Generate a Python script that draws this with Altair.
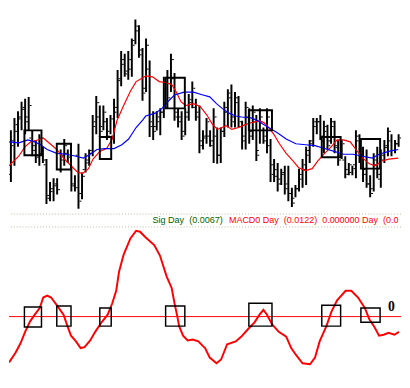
import altair as alt
import pandas as pd

# ---- price bars (arbitrary price units, one bar per day) ----
high = [86, 99, 106, 116, 119, 121, 86, 76, 82, 69,
        56, 32, 36, 36, 66, 77, 66, 49, 39, 72,
        42, 62, 66, 102, 122, 112, 112, 99, 102, 119,
        149, 169, 166, 169, 182, 202, 196, 172, 182, 159,
        106, 106, 109, 142, 149, 166, 146, 109, 106, 109,
        124, 137, 119, 112, 86, 99, 86, 109, 89, 89,
        116, 129, 134, 126, 122, 96, 116, 109, 112, 102,
        109, 89, 109, 77, 56, 52, 46, 49, 49, 26,
        29, 46, 56, 69, 76, 99, 99, 102, 96, 92,
        99, 96, 76, 76, 59, 52, 49, 86, 82, 69,
        66, 39, 62, 69, 66, 76, 89, 82, 76, 82]
low = [32, 49, 69, 86, 82, 86, 59, 52, 49, 52,
       9, 12, 12, 19, 42, 49, 52, 22, 22, 4,
       14, 42, 49, 59, 82, 79, 86, 76, 82, 72,
       99, 132, 142, 139, 142, 176, 162, 117, 126, 79,
       76, 86, 81, 99, 109, 126, 96, 89, 76, 81,
       96, 109, 96, 62, 66, 72, 69, 52, 51, 52,
       79, 89, 89, 89, 89, 66, 66, 72, 76, 54,
       72, 72, 62, 32, 32, 22, 29, 19, 12, 6,
       16, 22, 26, 29, 52, 69, 82, 76, 62, 66,
       72, 62, 49, 56, 36, 39, 39, 36, 52, 32,
       26, 16, 22, 36, 26, 52, 59, 59, 62, 69]
open_ = [40, 70, 85, 98, 108, 100, 78, 70, 60, 62,
         50, 18, 22, 28, 45, 55, 62, 45, 30, 60,
         20, 45, 52, 65, 90, 100, 90, 95, 85, 80,
         105, 138, 155, 145, 150, 180, 190, 165, 130, 150,
         95, 90, 95, 105, 130, 135, 140, 105, 100, 85,
         100, 115, 110, 105, 75, 78, 80, 70, 80, 60,
         85, 105, 125, 100, 115, 90, 80, 100, 85, 95,
         65, 95, 75, 70, 50, 45, 35, 40, 30, 20,
         15, 25, 35, 45, 60, 75, 90, 95, 75, 85,
         75, 90, 70, 60, 55, 45, 42, 50, 75, 60,
         45, 30, 25, 50, 35, 55, 68, 75, 65, 72]
close = [75, 92, 100, 110, 95, 112, 65, 58, 78, 55,
         15, 25, 30, 24, 60, 70, 58, 28, 26, 12,
         38, 55, 62, 95, 115, 85, 105, 80, 98, 110,
         140, 160, 148, 160, 175, 195, 170, 125, 175, 90,
         85, 100, 105, 135, 120, 160, 100, 95, 80, 105,
         118, 130, 100, 70, 80, 95, 75, 100, 60, 85,
         110, 120, 95, 120, 95, 75, 110, 80, 105, 60,
         100, 80, 100, 40, 38, 30, 42, 25, 20, 10,
         25, 40, 50, 65, 72, 95, 95, 80, 90, 70,
         95, 68, 55, 72, 40, 50, 46, 80, 60, 40,
         30, 20, 55, 40, 60, 70, 85, 65, 72, 78]

# ---- moving averages (day, price) ----
fast_day = [-0.5, 2.2, 4.0, 5.6, 7.5, 9.1, 11.0, 12.9, 14.8, 16.9, 18.8, 20.2, 21.8, 23.1,
            25.0, 26.9, 28.5, 29.8, 31.7, 33.6, 35.2, 37.1, 37.9, 39.8, 41.7, 43.3, 45.2,
            46.5, 47.8, 49.2, 51.3, 53.2, 55.1, 56.7, 58.1, 60.5, 62.1, 64.0, 65.9, 67.5,
            69.9, 71.2, 72.0, 73.9, 75.5, 77.4, 79.3, 80.9, 82.8, 84.7, 86.3, 88.2, 90.1,
            91.7, 93.5, 95.4, 97.0, 98.9, 100.8, 102.4, 104.3, 106.2, 108.9]
fast_val = [49, 59, 69, 74, 76, 78, 72, 66, 57, 49, 42, 41, 46, 56,
            64, 67, 77, 96, 112, 127, 137, 141, 143, 142, 137, 136, 134,
            126, 116, 112, 114, 111, 102, 92, 87, 91, 87, 89, 92, 94,
            96, 94, 91, 82, 72, 62, 54, 47, 44, 46, 54, 62, 69,
            76, 76, 74, 66, 57, 51, 49, 54, 56, 57]
slow_day = [-0.5, 2.2, 4.8, 6.7, 8.3, 10.2, 12.9, 15.6, 18.3, 20.4, 22.3, 24.2, 26.3, 29.0,
            31.2, 33.1, 35.2, 37.1, 37.9, 40.6, 42.5, 44.4, 46.0, 48.7, 51.3, 54.0, 55.9,
            57.8, 59.4, 61.3, 63.2, 64.8, 67.5, 69.4, 71.5, 74.7, 77.4, 80.1, 82.8, 85.5,
            88.2, 90.9, 93.5, 96.2, 98.9, 101.6, 103.5, 106.2, 108.9]
slow_val = [74, 73, 76, 74, 71, 66, 62, 61, 59, 57, 61, 66, 67, 67,
            71, 77, 89, 97, 101, 104, 109, 117, 123, 126, 126, 123, 121,
            114, 109, 104, 101, 100, 99, 96, 91, 84, 77, 72, 71, 70,
            67, 64, 61, 61, 59, 57, 61, 64, 66]

# ---- MACD (day, value) ----
macd_day = [-0.5, 1.3, 2.7, 4.0, 5.4, 6.7, 8.1, 9.1, 10.2, 11.3, 12.9, 14.8, 15.9, 16.9,
            18.3, 19.6, 20.7, 22.3, 23.7, 25.5, 27.2, 28.5, 29.6, 30.4, 31.7, 33.6, 35.2,
            36.3, 37.9, 40.3, 41.9, 43.8, 45.2, 46.0, 46.8, 47.3, 48.4, 49.7, 51.1, 52.7,
            54.0, 54.6, 55.9, 57.8, 59.1, 60.8, 63.2, 64.8, 66.7, 68.5, 69.9, 71.0, 72.0,
            73.4, 75.3, 77.4, 78.8, 80.1, 82.0, 84.1, 85.5, 86.8, 88.7, 90.1, 91.7, 94.1,
            95.7, 97.6, 99.5, 100.8, 102.2, 103.5, 104.8, 106.2, 107.8, 109.1]
macd_val = [-48, -38, -28, -16, -5, 2, 9, 20, 22, 20, 12, 2, -10, -20,
            -26, -33, -32, -25, -16, -6, 2, 14, 27, 47, 65, 82, 90,
            89, 83, 75, 64, 42, 30, 14, 0, -10, -20, -25, -24, -26,
            -31, -33, -43, -49, -45, -29, -26, -21, -13, -6, 2, 7, 2,
            -8, -16, -21, -33, -40, -49, -50, -43, -26, -10, 5, 17, 27,
            27, 20, 9, -3, -11, -20, -19, -17, -19, -16]

# ---- highlighted crossover boxes ----
box_start = [3.8, 12.9, 25.0, 43.5, 66.9, 87.4, 98.4]
box_end = [8.6, 16.9, 28.2, 48.9, 73.4, 92.7, 103.8]
box_price_top = [86, 72, 79, 141, 107, 79, 77]
box_price_bot = [60, 45, 56, 109, 86, 58, 46]
box_macd_top = [10, 11, 9, 11, 14, 12, 9]
box_macd_bot = [-11, -10, -10, -10, -10, -10, -6]

NB = "\u00a0"
legend_green = "Sig Day" + NB + NB + "(0.0067)"
legend_red = ("MACD0 Day" + NB + NB + "(0.0122)" + NB + NB + "0.000000 Day" + NB + NB + "(0.0")

bars = pd.DataFrame({"day": list(range(len(high))), "high": high, "low": low,
                     "open": open_, "close": close})
fast = pd.DataFrame({"day": fast_day, "v": fast_val})
slow = pd.DataFrame({"day": slow_day, "v": slow_val})
macd = pd.DataFrame({"day": macd_day, "v": macd_val})
boxes = pd.DataFrame({"s": box_start, "e": box_end, "pt": box_price_top, "pb": box_price_bot,
                      "mt": box_macd_top, "mb": box_macd_bot})

XS = alt.Scale(domain=[-0.54, 109.68], nice=False, zero=False)
YP = alt.Scale(domain=[0, 209], nice=False, zero=False)
YM = alt.Scale(domain=[-71, 108], nice=False, zero=False)

W = 402

hl = alt.Chart(bars).mark_rule(color="black", strokeWidth=2, clip=True).encode(
    x=alt.X("day:Q", scale=XS, axis=None),
    y=alt.Y("high:Q", scale=YP, axis=None), y2="low:Q")
ot = alt.Chart(bars).mark_rule(color="black", strokeWidth=1, xOffset=-3, x2Offset=-1, clip=True).encode(
    x=alt.X("day:Q", scale=XS, axis=None), x2="day:Q",
    y=alt.Y("open:Q", scale=YP, axis=None))
ct = alt.Chart(bars).mark_rule(color="black", strokeWidth=1, xOffset=1, x2Offset=3, clip=True).encode(
    x=alt.X("day:Q", scale=XS, axis=None), x2="day:Q",
    y=alt.Y("close:Q", scale=YP, axis=None))
fl = alt.Chart(fast).mark_line(color="#ff0000", strokeWidth=1.2, clip=True).encode(
    x=alt.X("day:Q", scale=XS, axis=None), y=alt.Y("v:Q", scale=YP, axis=None))
sl = alt.Chart(slow).mark_line(color="#0000ff", strokeWidth=1.2, clip=True).encode(
    x=alt.X("day:Q", scale=XS, axis=None), y=alt.Y("v:Q", scale=YP, axis=None))
pb = alt.Chart(boxes).mark_rect(fillOpacity=0, stroke="black", strokeWidth=2, clip=True).encode(
    x=alt.X("s:Q", scale=XS, axis=None), x2="e:Q",
    y=alt.Y("pt:Q", scale=YP, axis=None), y2="pb:Q")

top = alt.layer(hl, ot, ct, fl, sl, pb).properties(width=W, height=205)

seps = alt.Chart(pd.DataFrame({"v": [107.5, 94]})).mark_rule(
    color="#b8b8a0", strokeWidth=1, strokeDash=[1, 2]).encode(
    y=alt.Y("v:Q", scale=YM, axis=None))
t1 = alt.Chart(pd.DataFrame({"day": [39.8], "v": [101], "t": [legend_green]})).mark_text(
    align="left", baseline="middle", font="Liberation Sans", fontSize=9.3, color="#006400"
).encode(x=alt.X("day:Q", scale=XS, axis=None),
         y=alt.Y("v:Q", scale=YM, axis=None), text="t:N")
t2 = alt.Chart(pd.DataFrame({"day": [61.3], "v": [101], "t": [legend_red]})).mark_text(
    align="left", baseline="middle", font="Liberation Sans", fontSize=9.2, color="#ff0000"
).encode(x=alt.X("day:Q", scale=XS, axis=None),
         y=alt.Y("v:Q", scale=YM, axis=None), text="t:N")
zero = alt.Chart(pd.DataFrame({"v": [0]})).mark_rule(color="#ff0000", strokeWidth=1).encode(
    y=alt.Y("v:Q", scale=YM, axis=None))
ml = alt.Chart(macd).mark_line(color="#ff0000", strokeWidth=2, clip=True).encode(
    x=alt.X("day:Q", scale=XS, axis=None), y=alt.Y("v:Q", scale=YM, axis=None))
mb = alt.Chart(boxes).mark_rect(fillOpacity=0, stroke="black", strokeWidth=1.5, clip=True).encode(
    x=alt.X("s:Q", scale=XS, axis=None), x2="e:Q",
    y=alt.Y("mt:Q", scale=YM, axis=None), y2="mb:Q")
zl = alt.Chart(pd.DataFrame({"day": [107.0], "v": [10], "t": ["0"]})).mark_text(
    align="center", baseline="middle", font="Liberation Serif", fontSize=14, fontWeight="bold",
    color="black").encode(x=alt.X("day:Q", scale=XS, axis=None),
                          y=alt.Y("v:Q", scale=YM, axis=None), text="t:N")

bottom = alt.layer(seps, t1, t2, zero, ml, mb, zl).properties(width=W, height=175)

chart = alt.vconcat(top, bottom, spacing=0).properties(padding=0, background="white").configure_view(
    stroke=None)

chart.save("out.html", embed_options={"renderer": "svg", "actions": False})
